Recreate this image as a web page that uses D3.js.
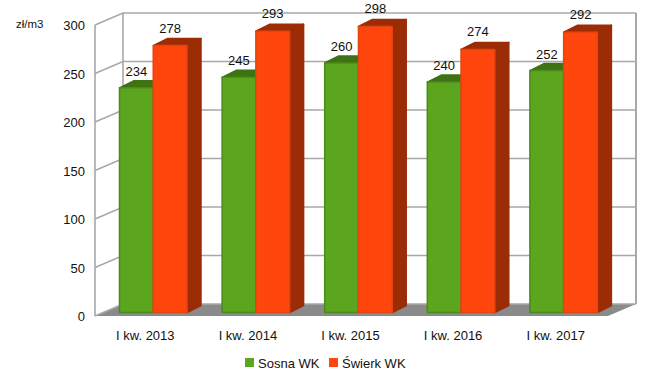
<!DOCTYPE html>
<html><head><meta charset="utf-8">
<script src="https://cdn.jsdelivr.net/npm/d3@7"></script>
<style>html,body{margin:0;padding:0;background:#fff}svg{display:block}text{font-family:"Liberation Sans",Arial,sans-serif;fill:#111}</style>
</head><body><svg id="c" width="650" height="381"></svg>
<script>
const categories = ["I kw. 2013","I kw. 2014","I kw. 2015","I kw. 2016","I kw. 2017"];
const sosna = [234,245,260,240,252];
const swierk = [278,293,298,274,292];
const seriesNames = ["Sosna WK","Świerk WK"];
const ticks = [0,50,100,150,200,250,300];
const unit = "zł/m3";

const svg = d3.select("#c");
const dx = 28, dy = -12;
const y = d3.scaleLinear().domain([0,300]).range([316,25]);
const x = d3.scaleBand().domain(categories).range([95,608]);
const inner = d3.scaleBand().domain(seriesNames).range([0,67.5]);
const hScale = d3.scaleLinear().domain([0,300]).range([0,288]);
const wall = "#a8a8a8";

// floor
svg.append("polygon").attr("fill","#8a8a8a")
  .attr("points",[[95,y(0)],[608,y(0)],[608+dx,y(0)+dy],[95+dx,y(0)+dy]].join(" "));

// walls and gridlines
const g = svg.append("g").attr("stroke",wall).attr("stroke-width",1.6).attr("fill","none");
g.selectAll("path.grid").data(ticks).join("path").attr("class","grid")
  .attr("d",t=>{const v=y(t);return `M95,${v}L${95+dx},${v+dy}L${608+dx},${v+dy}`;});
g.append("path").attr("d",`M95,${y(0)}V${y(300)}`);
g.append("path").attr("d",`M${95+dx},${y(0)+dy}V${y(300)+dy}`);
g.append("path").attr("stroke-width",2).attr("d",`M${608+dx},${y(0)+dy}V${y(300)+dy}`);

// tick labels
svg.selectAll("text.tick").data(ticks).join("text").attr("class","tick")
  .attr("x",85).attr("y",t=>y(t)+5).attr("text-anchor","end").attr("font-size",13).text(t=>t);
svg.append("text").attr("x",16).attr("y",28).attr("font-size",11.5).text(unit);

// bars
const styles = [
 {front:"#5ca51e",edge:"#4b8a1c",top:"#3f7213",side:"#3f7213",off:-12},
 {front:"#ff470d",edge:"#e5440f",top:"#9c2c06",side:"#9c2c06",off:-13}
];
const base = 312.5, bdx = 14, bdy = -7;
const startX = 24.5;
[sosna,swierk].forEach((vals,si)=>{
  const st = styles[si];
  vals.forEach((v,i)=>{
    const x0 = x(categories[i]) + startX + inner(seriesNames[si]);
    const w = inner.bandwidth();
    const top = base - hScale(v);
    const b = svg.append("g").attr("stroke-linejoin","round");
    b.append("polygon").attr("fill",st.side).attr("stroke",st.side).attr("stroke-width",1.5)
      .attr("points",[[x0+w,top],[x0+w+bdx,top+bdy],[x0+w+bdx,base+bdy],[x0+w,base]].join(" "));
    b.append("polygon").attr("fill",st.top).attr("stroke",st.top).attr("stroke-width",1.5)
      .attr("points",[[x0,top],[x0+bdx,top+bdy],[x0+w+bdx,top+bdy],[x0+w,top]].join(" "));
    b.append("rect").attr("x",x0).attr("y",top).attr("width",w).attr("height",base-top)
      .attr("fill",st.front).attr("stroke",st.edge).attr("stroke-width",1.5);
  });
});
// value labels on top of bars
[sosna,swierk].forEach((vals,si)=>{
  svg.selectAll("text.v"+si).data(vals).join("text").attr("class","v"+si)
    .attr("x",(v,i)=>x(categories[i]) + startX + inner(seriesNames[si]) + inner.bandwidth()/2)
    .attr("y",v=>base-hScale(v)+styles[si].off)
    .attr("text-anchor","middle").attr("font-size",13).text(v=>v);
});

// category labels
svg.selectAll("text.cat").data(categories).join("text").attr("class","cat")
  .attr("x",c=>x(c)+x.bandwidth()/2-1).attr("y",340).attr("text-anchor","middle").attr("font-size",13).text(c=>c);

// legend
const lx = d3.scaleOrdinal().domain(seriesNames).range([245,329]);
seriesNames.forEach((n,i)=>{
  svg.append("rect").attr("x",lx(n)).attr("y",358).attr("width",9).attr("height",9).attr("fill",styles[i].front);
  svg.append("text").attr("x",lx(n)+13).attr("y",367.5).attr("font-size",13).text(n);
});
</script></body></html>
